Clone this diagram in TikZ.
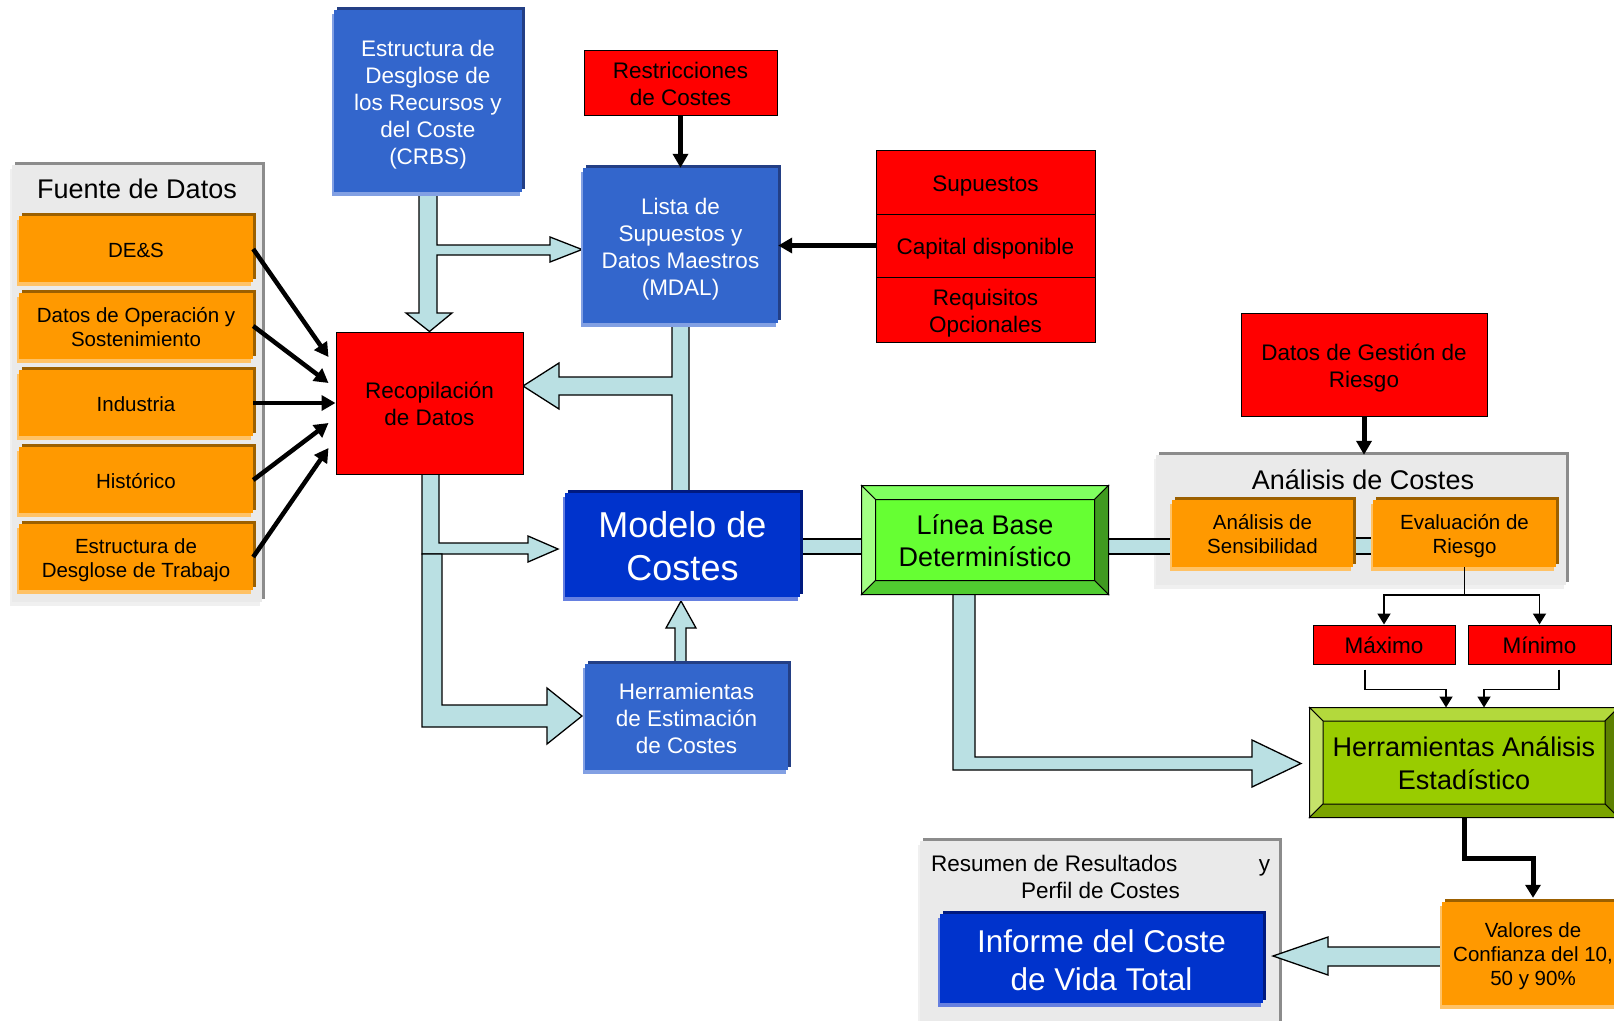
\documentclass[tikz,border=0pt]{standalone}
\usepackage{fontspec}
\setmainfont{Liberation Sans}
\usetikzlibrary{arrows.meta,shadows,calc}

\definecolor{orng}{HTML}{FF9900}
\definecolor{orngdark}{HTML}{9C6000}
\definecolor{ornglight}{HTML}{FFC266}
\definecolor{blu}{HTML}{3366CC}
\definecolor{bludark}{HTML}{233F85}
\definecolor{blulight}{HTML}{82A0E3}
\definecolor{navyfill}{HTML}{0033CC}
\definecolor{navydark}{HTML}{001A80}
\definecolor{navylight}{HTML}{6680E0}
\definecolor{pipecol}{HTML}{BAE0E3}
\definecolor{panel}{HTML}{EAEAEA}
\definecolor{paneldark}{HTML}{8C8C8C}
\definecolor{panellight}{HTML}{F0F0F0}
\definecolor{lgreen}{HTML}{66FF33}
\definecolor{lgreentop}{HTML}{80FF60}
\definecolor{lgreenleft}{HTML}{A3FF85}
\definecolor{lgreenright}{HTML}{409A20}
\definecolor{lgreenbottom}{HTML}{50CC30}
\definecolor{ygreen}{HTML}{99CC00}
\definecolor{ygreentop}{HTML}{B3D93C}
\definecolor{ygreenleft}{HTML}{C5E26A}
\definecolor{ygreenright}{HTML}{5C8000}
\definecolor{ygreenbottom}{HTML}{7AA300}

\pgfdeclarelayer{panels}
\pgfdeclarelayer{pipes}
\pgfsetlayers{panels,pipes,main}

% box text is stacked with struts so that every block sits at the same optical centre
\newsavebox\blocktextbox
\newcommand\blocktext[1]{%
  \sbox\blocktextbox{\begin{tabular}{@{}c@{}}#1\end{tabular}}%
  \raisebox{-0.16em}[\ht\blocktextbox][\dp\blocktextbox]{\usebox\blocktextbox}}

% bevelled frame around a rectangular node: node, inset, top, left, right, bottom colours
\newcommand\bevelframe[6]{%
  \path[draw=black, line width=1pt, fill=#3] (#1.north west) -- (#1.north east)
    -- ($(#1.north east)+(-#2,#2)$) -- ($(#1.north west)+(#2,#2)$) -- cycle;
  \path[draw=black, line width=1pt, fill=#4] (#1.north west) -- ($(#1.north west)+(#2,#2)$)
    -- ($(#1.south west)+(#2,-#2)$) -- (#1.south west) -- cycle;
  \path[draw=black, line width=1pt, fill=#5] (#1.north east) -- (#1.south east)
    -- ($(#1.south east)+(-#2,-#2)$) -- ($(#1.north east)+(-#2,#2)$) -- cycle;
  \path[draw=black, line width=1pt, fill=#6] (#1.south west) -- (#1.south east)
    -- ($(#1.south east)+(-#2,-#2)$) -- ($(#1.south west)+(#2,-#2)$) -- cycle;
}

\tikzset{
  txtbox/.style={inner sep=0pt, font=\fontsize{22.5}{27}\selectfont},
  raised/.style 2 args={
    general shadow={fill=#1, shadow xshift=3pt, shadow yshift=3pt},
    general shadow={fill=#2, shadow xshift=-2pt, shadow yshift=-4pt}},
  srcbox/.style={txtbox, fill=orng, raised={orngdark}{ornglight},
    minimum width=234pt, minimum height=66pt, font=\fontsize{20.5}{24}\selectfont},
  bluebox/.style={txtbox, fill=blu, text=white, raised={bludark}{blulight}},
  navybox/.style={txtbox, fill=navyfill, text=white, raised={navydark}{navylight}},
  redbox/.style={txtbox, fill=red, draw=black, line width=1pt},
  panelbox/.style={fill=panel, inner sep=0pt, raised={paneldark}{panellight}},
  paneltitle/.style={inner sep=0pt, font=\fontsize{27}{32}\selectfont},
  pipe/.style={fill=pipecol, draw=black, line width=1.3pt, line join=miter},
  bigarrow/.style={line width=4.5pt, -{Triangle[length=14pt,width=15pt]}},
  thinarrow/.style={line width=1.8pt, line join=miter, -{Triangle[length=11pt,width=13pt]}},
}

\begin{document}
\begin{tikzpicture}[x=1pt,y=-1pt]
\useasboundingbox (0,0) rectangle (1614,1020);

% ---------- grey panels ----------
\begin{pgfonlayer}{panels}
  \fill[white] (0,0) rectangle (1614,1020);
  \node[panelbox, minimum width=250pt, minimum height=437pt] (fuente) at (137,383.5) {};
  \node[panelbox, minimum width=410pt, minimum height=130pt] (analisis) at (1361,520) {};
  \node[panelbox, minimum width=359pt, minimum height=189pt] (resumen) at (1099.5,935.5) {};
\end{pgfonlayer}

\node[paneltitle] (fuentetitle) at (137,189) {Fuente de Datos};
\node[paneltitle] (analisistitle) at (1363,480) {Análisis de Costes};
\node[txtbox] (resumentitle) at (1100.5,876)
  {\blocktext{\makebox[339pt]{Resumen de Resultados\hfill y}\\Perfil de Costes}};

% ---------- data sources ----------
\node[srcbox] (des)   at (136,249) {\blocktext{DE\&S}};
\node[srcbox] (oper)  at (136,326) {\blocktext{Datos de Operación y\\Sostenimiento}};
\node[srcbox] (indus) at (136,403) {\blocktext{Industria}};
\node[srcbox] (hist)  at (136,480) {\blocktext{Histórico}};
\node[srcbox] (edt)   at (136,557) {\blocktext{Estructura de\\Desglose de Trabajo}};

% ---------- central blocks ----------
\node[bluebox, minimum width=188pt, minimum height=182pt] (crbs) at (428,101)
  {\blocktext{Estructura de\\Desglose de\\los Recursos y\\del Coste\\(CRBS)}};
\node[redbox, minimum width=193pt, minimum height=65pt] (restr) at (680.5,82.5)
  {\blocktext{Restricciones\\de Costes}};
\node[bluebox, minimum width=195pt, minimum height=155pt] (mdal) at (680.5,245.5)
  {\blocktext{Lista de\\Supuestos y\\Datos Maestros\\(MDAL)}};
\node[redbox, minimum width=219pt, minimum height=64pt] (sup1) at (985.5,182)
  {\blocktext{Supuestos}};
\node[redbox, minimum width=219pt, minimum height=63pt] (sup2) at (985.5,245.5)
  {\blocktext{Capital disponible}};
\node[redbox, minimum width=219pt, minimum height=65pt] (sup3) at (985.5,309.5)
  {\blocktext{Requisitos\\Opcionales}};
\node[redbox, minimum width=187pt, minimum height=142pt] (recop) at (429.5,403)
  {\blocktext{Recopilación\\de Datos}};
\node[navybox, minimum width=235pt, minimum height=104pt, font=\fontsize{36}{43}\selectfont]
  (modelo) at (682.5,545) {\blocktext{Modelo de\\Costes}};
\node[bluebox, minimum width=203pt, minimum height=106pt] (herrest) at (686.5,717)
  {\blocktext{Herramientas\\de Estimación\\de Costes}};

\node[txtbox, fill=lgreen, draw=black, line width=1pt, minimum width=246pt, minimum height=108pt,
  font=\fontsize{27}{32}\selectfont] (linea) at (985,540) {\blocktext{Línea Base\\Determinístico}};
\bevelframe{linea}{14}{lgreentop}{lgreenleft}{lgreenright}{lgreenbottom}

% ---------- cost analysis ----------
\node[redbox, minimum width=246pt, minimum height=103pt] (gestion) at (1364,364.5)
  {\blocktext{Datos de Gestión de\\Riesgo}};
\node[srcbox, minimum width=181pt, minimum height=67pt] (sens) at (1262.5,533.5)
  {\blocktext{Análisis de\\Sensibilidad}};
\node[srcbox, minimum width=183pt, minimum height=67pt] (eval) at (1464.5,533.5)
  {\blocktext{Evaluación de\\Riesgo}};
\node[redbox, minimum width=142pt, minimum height=39pt] (maximo) at (1384,644.5)
  {\blocktext{Máximo}};
\node[redbox, minimum width=143pt, minimum height=39pt] (minimo) at (1539.5,644.5)
  {\blocktext{Mínimo}};
\node[txtbox, fill=ygreen, draw=black, line width=1pt, minimum width=308pt, minimum height=109pt,
  font=\fontsize{27}{33}\selectfont] (herran) at (1464,762.5)
  {\blocktext{Herramientas Análisis\\Estadístico}};
\bevelframe{herran}{13.5}{ygreentop}{ygreenleft}{ygreenright}{ygreenbottom}
\node[srcbox, minimum width=182pt, minimum height=103pt] (valores) at (1533,953.5)
  {\blocktext{Valores de\\Confianza del 10,\\50 y 90\%}};
\node[navybox, minimum width=323pt, minimum height=89pt, font=\fontsize{31.5}{38}\selectfont]
  (informe) at (1101.5,958.5) {\blocktext{Informe del Coste\\de Vida Total}};

% ---------- block arrows ----------
\begin{pgfonlayer}{pipes}
  % CRBS down to data collection, branch to MDAL
  \path[pipe] (419,192) -- (437,192) -- (437,245) -- (550,245) -- (550,237) -- (582,249.5)
    -- (550,262) -- (550,255) -- (437,255) -- (437,313) -- (452,313) -- (recop.north)
    -- (406,313) -- (419,313) -- cycle;
  % MDAL trunk to the cost model, branch back to data collection
  \path[pipe] (672,320) -- (689,320) -- (689,495) -- (672,495) -- (672,395) -- (559,395)
    -- (559,409) -- (523,386) -- (559,363) -- (559,377) -- (672,377) -- cycle;
  % data collection to the cost model
  \path[pipe] (422,472) -- (439,472) -- (439,543) -- (528,543) -- (528,536) -- (558,549)
    -- (528,562) -- (528,554) -- (422,554) -- cycle;
  % data collection to the estimating tools
  \path[pipe] (422,554) -- (442,554) -- (442,705) -- (547,705) -- (547,688) -- (582,716)
    -- (547,744) -- (547,727) -- (422,727) -- cycle;
  % estimating tools up to the cost model
  \path[pipe] (675,666) -- (675,628) -- (666,628) -- (681,601) -- (696,628) -- (686,628)
    -- (686,666) -- cycle;
  % horizontal bands
  \path[pipe] (795,539) rectangle (866,554);
  \path[pipe] (1104,539) rectangle (1176,554);
  \path[pipe] (1350,538) rectangle (1376,554);
  % baseline to statistical tools
  \path[pipe] (953,590) -- (975,590) -- (975,757) -- (1252,757) -- (1252,740) -- (1301,763.5)
    -- (1252,787) -- (1252,770) -- (953,770) -- cycle;
  % confidence values to the final report
  \path[pipe] (1445,947) -- (1328,947) -- (1328,937) -- (1273,956) -- (1328,975)
    -- (1328,966) -- (1445,966) -- cycle;
\end{pgfonlayer}

% ---------- plain arrows ----------
\draw[bigarrow] (des.east)   -- ($(recop.west)+(-7,-46)$);
\draw[bigarrow] (oper.east)  -- ($(recop.west)+(-7,-20)$);
\draw[bigarrow] (indus.east) -- (recop.west);
\draw[bigarrow] (hist.east)  -- ($(recop.west)+(-7,20)$);
\draw[bigarrow] (edt.east)   -- ($(recop.west)+(-7,45)$);
\draw[bigarrow] (restr.south) -- (mdal.north);
\draw[bigarrow] (sup2.west) -- (mdal.east);
\draw[bigarrow, line width=5pt] (gestion.south) -- (gestion.south |- analisis.north);
\draw[thinarrow] (eval.south) -- ++(0,28) -| (maximo.north);
\draw[thinarrow] (eval.south) -- ++(0,28) -| (minimo.north);
\draw[thinarrow] ($(maximo.south)+(-19,5)$) -- ++(0,20) -| ($(herran.north)+(-18,0)$);
\draw[thinarrow] ($(minimo.south)+(19.5,5)$) -- ++(0,20) -| ($(herran.north)+(20,0)$);
\draw[line width=5pt, line join=miter, -{Triangle[length=13pt,width=15pt]}]
  (herran.south) -- ++(0,41) -| ($(valores.north)+(0,-4)$);

\end{tikzpicture}
\end{document}
